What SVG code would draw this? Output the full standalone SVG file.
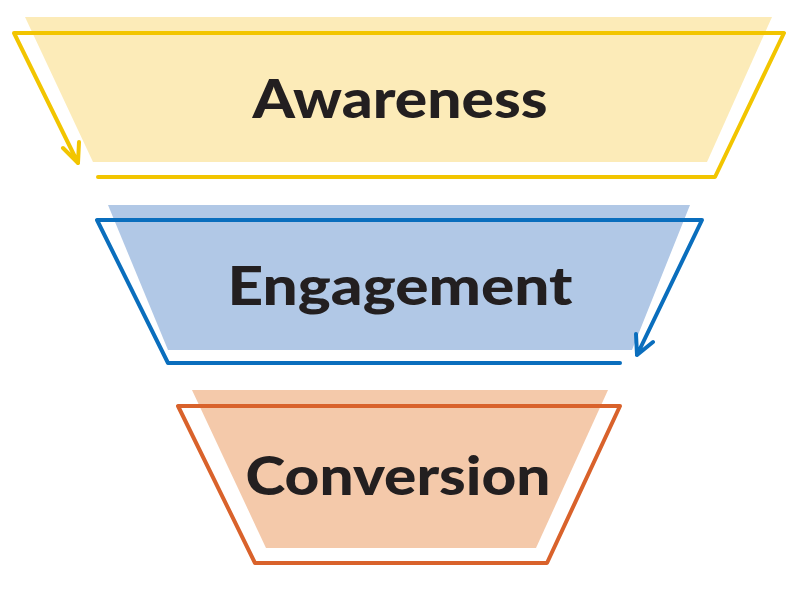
<svg xmlns="http://www.w3.org/2000/svg" width="800" height="593" viewBox="0 0 800 593">
<style>
.l{font-family:Lato,"DejaVu Sans",sans-serif;font-weight:900;font-size:54px;fill:#231f20;text-anchor:middle}
.o{fill:none;stroke-width:4;stroke-linecap:round;stroke-linejoin:round}
</style>
<rect width="800" height="593" fill="#fff"/>
<g id="awareness">
<polygon points="25,17 772,17 707,162 93,162" fill="#fcebb8"/>
<text class="l" x="400" y="118" textLength="295" lengthAdjust="spacingAndGlyphs">Awareness</text>
</g>
<g id="engagement">
<polygon points="108,205 690,205 632,350 168,350" fill="#b1c8e6"/>
<text class="l" x="400" y="305" textLength="345" lengthAdjust="spacingAndGlyphs">Engagement</text>
</g>
<g id="conversion">
<polygon points="192,390 608,390 536,548 266,548" fill="#f4c9aa"/>
<text class="l" x="398" y="495" textLength="305" lengthAdjust="spacingAndGlyphs">Conversion</text>
</g>
<g id="connectors">
<path class="o" stroke="#f2c500" d="M98,177 H715 L784,33 H14 L78,163 M63,148 L78,163 L79,142"/>
<path class="o" stroke="#0a6ebd" d="M620,363 H168 L97,220 H702 L637,355 M636,334 L637,355 L653,342"/>
<path class="o" stroke="#d9622b" d="M178,406 H620 L547,563 H255 Z"/>
</g>
</svg>
